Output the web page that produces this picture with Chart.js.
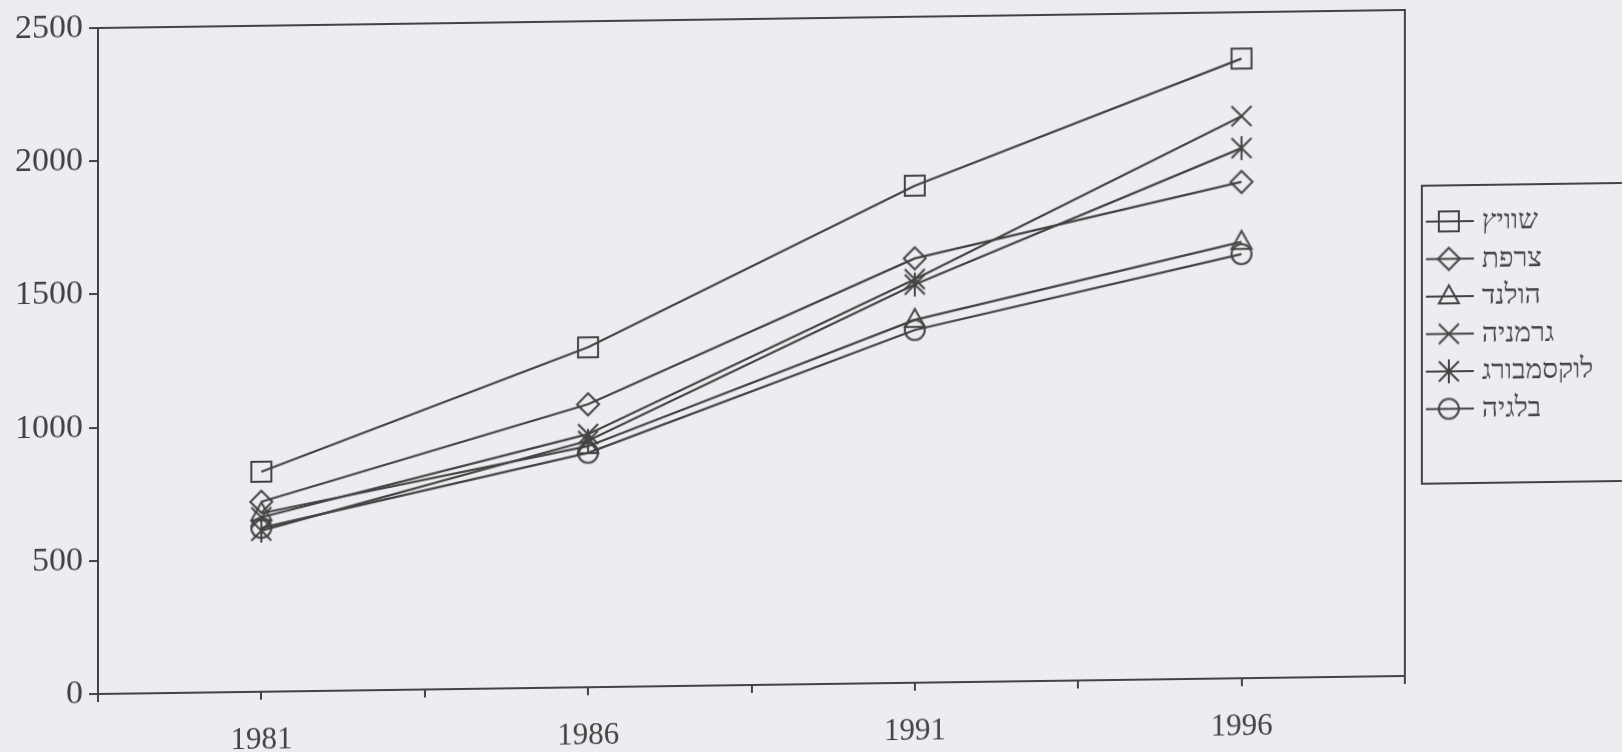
<!DOCTYPE html>
<html lang="he">
<head>
<meta charset="utf-8">
<script src="https://cdn.jsdelivr.net/npm/chart.js@4.4.1/dist/chart.umd.min.js"></script>
<style>
  html, body { margin: 0; padding: 0; background: #ebedf0; overflow: hidden; }
  /* the scanned page is slanted a little, so the drawing is too */
  #chart { display: block; transform-origin: 98px 28px; transform: skewY(-0.79deg); }
</style>
</head>
<body>
<canvas id="chart" width="1622" height="752"></canvas>
<script>
// Data
const years = [1981, 1986, 1991, 1996];
const xTicks = [1978.5, 1981, 1983.5, 1986, 1988.5, 1991, 1993.5, 1996, 1998.5];
const yTicks = [0, 500, 1000, 1500, 2000, 2500];

const seriesNames = ["שוויץ", "צרפת", "הולנד", "גרמניה", "לוקסמבורג", "בלגיה"];
const seriesMarkers = ["square", "diamond", "triangle", "x", "star", "circle"];

const swiss = [826, 1276, 1866, 2326];
const france = [713, 1062, 1593, 1863];
const netherlands = [670, 905, 1362, 1638];
const germany = [655, 950, 1515, 2110];
const luxembourg = [605, 925, 1495, 1990];
const belgium = [615, 880, 1324, 1592];

const seriesValues = [swiss, france, netherlands, germany, luxembourg, belgium];

const INK = "#434343";
const FONT = "'Liberation Serif', 'DejaVu Serif', serif";

// Build a small hollow marker as a canvas (used for points and legend)
function makeMarker(kind) {
  const c = document.createElement("canvas");
  c.width = 28;
  c.height = 28;
  const g = c.getContext("2d");
  const m = 14;
  g.strokeStyle = INK;
  g.lineWidth = 2;
  g.beginPath();
  switch (kind) {
    case "square":
      g.rect(m - 10, m - 10, 20, 20);
      break;
    case "diamond":
      g.moveTo(m, m - 11);
      g.lineTo(m + 11, m);
      g.lineTo(m, m + 11);
      g.lineTo(m - 11, m);
      g.closePath();
      break;
    case "triangle":
      g.moveTo(m, m - 11);
      g.lineTo(m + 10, m + 7);
      g.lineTo(m - 10, m + 7);
      g.closePath();
      break;
    case "x":
      g.moveTo(m - 10, m - 10);
      g.lineTo(m + 10, m + 10);
      g.moveTo(m + 10, m - 10);
      g.lineTo(m - 10, m + 10);
      break;
    case "star":
      g.moveTo(m - 10, m - 10);
      g.lineTo(m + 10, m + 10);
      g.moveTo(m + 10, m - 10);
      g.lineTo(m - 10, m + 10);
      g.moveTo(m, m - 12);
      g.lineTo(m, m + 12);
      break;
    case "circle":
      g.arc(m, m, 10, 0, Math.PI * 2);
      break;
  }
  g.stroke();
  return c;
}

const markerImages = seriesMarkers.map(makeMarker);

const datasets = seriesNames.map((name, i) => ({
  label: name,
  data: years.map((yr, j) => ({ x: yr, y: seriesValues[i][j] })),
  borderColor: INK,
  borderWidth: 2.2,
  tension: 0,
  pointStyle: markerImages[i],
  pointRadius: 10,
}));

// Top/right frame of the plot and the legend box
const framePlugin = {
  id: "frame",
  afterDraw(chart) {
    const { ctx, chartArea } = chart;
    ctx.save();
    ctx.strokeStyle = INK;
    ctx.lineWidth = 2;
    ctx.beginPath();
    ctx.moveTo(chartArea.left, chartArea.top);
    ctx.lineTo(chartArea.right, chartArea.top);
    ctx.lineTo(chartArea.right, chartArea.bottom);
    ctx.stroke();

    // legend
    ctx.strokeRect(1422, 204, 300, 298);
    ctx.font = "28px " + FONT;
    ctx.fillStyle = INK;
    ctx.textBaseline = "middle";
    ctx.textAlign = "left";
    seriesNames.forEach((name, i) => {
      const y = 240 + i * 37.5;
      ctx.beginPath();
      ctx.moveTo(1426, y);
      ctx.lineTo(1474, y);
      ctx.stroke();
      const img = markerImages[i];
      ctx.drawImage(img, 1449 - img.width / 2, y - img.height / 2);
      ctx.fillText(name, 1482, y + 1);
    });
    ctx.restore();
  },
};

new Chart(document.getElementById("chart"), {
  type: "line",
  data: { datasets },
  plugins: [framePlugin],
  options: {
    responsive: false,
    devicePixelRatio: 1,
    animation: false,
    layout: { padding: { left: 0, top: 28, right: 217, bottom: 0 } },
    plugins: {
      legend: { display: false },
      tooltip: { enabled: false },
    },
    scales: {
      x: {
        type: "linear",
        min: 1978.5,
        max: 1998.5,
        afterBuildTicks: (s) => {
          s.ticks = xTicks.map((v) => ({ value: v }));
        },
        afterFit: (s) => {
          s.height = 58;
        },
        ticks: {
          callback: (v) => (years.includes(v) ? String(v) : ""),
          font: { family: FONT, size: 31 },
          color: INK,
          padding: 22,
          maxRotation: 0,
          autoSkip: false,
        },
        grid: { drawOnChartArea: false, tickLength: 8, color: INK, lineWidth: 2 },
        border: { color: INK, width: 2 },
      },
      y: {
        min: 0,
        max: 2500,
        afterBuildTicks: (s) => {
          s.ticks = yTicks.map((v) => ({ value: v }));
        },
        afterFit: (s) => {
          s.width = 98;
        },
        ticks: {
          callback: (v) => String(v),
          font: { family: FONT, size: 34 },
          color: INK,
          padding: 6,
        },
        grid: { drawOnChartArea: false, tickLength: 9, color: INK, lineWidth: 2 },
        border: { color: INK, width: 2 },
      },
    },
  },
});
</script>
</body>
</html>
